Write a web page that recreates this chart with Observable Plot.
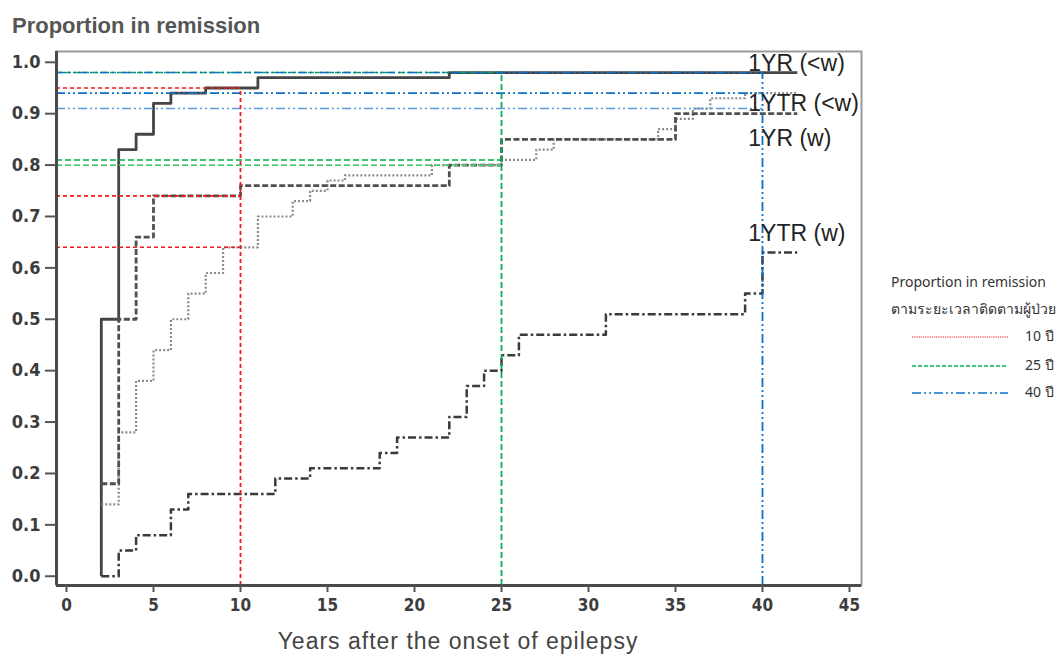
<!DOCTYPE html>
<html><head><meta charset="utf-8">
<script src="https://cdn.jsdelivr.net/npm/d3@7"></script>
<script src="https://cdn.jsdelivr.net/npm/@observablehq/plot@0.6"></script>
<style>
body{margin:0;background:#fff;}
#wrap{position:relative;width:1061px;height:660px;overflow:hidden;background:#fff;}
#wrap svg.plot{position:absolute;left:0;top:0;}
.title{position:absolute;left:12px;top:13px;font:bold 22px "Liberation Sans",Arial,sans-serif;color:#555;white-space:nowrap;}
.xlab{position:absolute;left:458px;top:628px;transform:translateX(-50%);font:23px "Liberation Sans",Arial,sans-serif;color:#444;white-space:nowrap;letter-spacing:1px;}
.lg{position:absolute;font:14px "Noto Sans","DejaVu Sans",sans-serif;color:#333;white-space:nowrap;line-height:1;}
</style></head><body>
<div id="wrap"></div>
<script>
// ---- data ----
const xTicks = [0,5,10,15,20,25,30,35,40,45];
const yTicks = [0,0.1,0.2,0.3,0.4,0.5,0.6,0.7,0.8,0.9,1.0];
const xDomain = [-0.575, 45.69];
const yDomain = [-0.018, 1.021];

const seriesNames = ["1YR (<w)", "1YTR (<w)", "1YR (w)", "1YTR (w)"];
const t1YRlw  = [2,2,3,4,5,6,8,11,22,42];
const s1YRlw  = [0,0.50,0.83,0.86,0.92,0.94,0.95,0.97,0.98,0.98];
const t1YTRlw = [2,3,4,5,6,7,8,9,11,13,14,15,16,21,25,27,28,34,35,36,37,39,42];
const s1YTRlw = [0.14,0.28,0.38,0.44,0.50,0.55,0.59,0.64,0.70,0.73,0.75,0.77,0.78,0.80,0.81,0.83,0.85,0.87,0.89,0.91,0.93,0.94,0.94];
const t1YRw   = [2,3,4,5,10,22,25,35,42];
const s1YRw   = [0.18,0.50,0.66,0.74,0.76,0.80,0.85,0.90,0.90];
const t1YTRw  = [2,3,4,6,7,12,14,18,19,22,23,24,25,26,31,39,40,42];
const s1YTRw  = [0,0.05,0.08,0.13,0.16,0.19,0.21,0.24,0.27,0.31,0.37,0.40,0.43,0.47,0.51,0.55,0.63,0.63];

const refYears  = [10, 25, 40];
const refLabels = ["10 ปี", "25 ปี", "40 ปี"];
const ref10 = [0.95, 0.74, 0.64];
const ref25 = [0.98, 0.81, 0.80];
const ref40 = [0.98, 0.94, 0.91];

// ---- styles ----
const curveStyle = {
  "1YR (<w)":  {stroke:"#454545", strokeWidth:2.8, dash:null},
  "1YTR (<w)": {stroke:"#8a8a8a", strokeWidth:2.2, dash:"2,2"},
  "1YR (w)":   {stroke:"#505050", strokeWidth:2.8, dash:"6,2.5"},
  "1YTR (w)":  {stroke:"#3a3a3a", strokeWidth:2.5, dash:"8,3,2.5,3"}
};
const labelDy = {"1YR (<w)":-9, "1YTR (<w)":10, "1YR (w)":25, "1YTR (w)":-19};
const refStyle = [
  {stroke:"#f51a1a", dash:"4,3", legendDash:"1.2,1"},
  {stroke:"#00b04c", dash:"6,3", legendDash:"4,2"},
  {stroke:"#0a70c8", dash:"9,3,2,3,2,3", legendDash:"9,3,2,3,2,3"}
];

// ---- build tables ----
const tables = [[t1YRlw,s1YRlw],[t1YTRlw,s1YTRlw],[t1YRw,s1YRw],[t1YTRw,s1YTRw]];
const curves = seriesNames.map((name,i)=>tables[i][0].map((t,j)=>({name, t, s: tables[i][1][j]})));
const ends = curves.map(c=>c[c.length-1]);
const refSets = [ref10, ref25, ref40];
const refH = refSets.flatMap((vals,i)=>vals.map((v,k)=>({i,k,year:refYears[i],v})));
const refV = refYears.map((year,i)=>({i,year,top:d3.max(refSets[i])}));
const tickFont = "'Liberation Sans Narrow','DejaVu Sans Condensed','Arial Narrow',sans-serif";

const marks = [
  Plot.frame({stroke:"#9a9a9a", strokeWidth:2}),
  ...curves.map(c=>{
    const st = curveStyle[c[0].name];
    return Plot.line(c,{x:"t",y:"s",curve:"step-after",stroke:st.stroke,strokeWidth:st.strokeWidth,strokeDasharray:st.dash,strokeLinecap:"butt"});
  }),
  ...refH.map(d=>Plot.ruleY([d],{y:"v",x1:xDomain[0],x2:"year",
    stroke: (d.i===2 && d.k===2) ? "#5a9ad8" : (d.i===1 && d.k===2 ? "#4ccb7c" : refStyle[d.i].stroke),
    strokeWidth:1.6,strokeDasharray:refStyle[d.i].dash})),
  ...refV.map(d=>Plot.ruleX([d],{x:"year",y1:yDomain[0],y2:"top",stroke:refStyle[d.i].stroke,strokeWidth:1.8,strokeDasharray:refStyle[d.i].dash})),
  Plot.ruleX([xDomain[0]],{stroke:"#4a4a4a",strokeWidth:3}),
  Plot.ruleY([yDomain[0]],{stroke:"#4a4a4a",strokeWidth:3}),
  Plot.axisY({ticks:yTicks,tickFormat:d3.format(".1f"),tickSize:11,tickPadding:5,stroke:"#555",strokeWidth:2,
    fill:"#3c3c3c",fontSize:18,fontWeight:"bold",fontFamily:tickFont,label:null}),
  Plot.axisX({ticks:xTicks,tickFormat:d=>String(d),tickSize:7,tickPadding:6,stroke:"#555",strokeWidth:2,
    fill:"#3c3c3c",fontSize:17,fontWeight:"bold",fontFamily:tickFont,label:null}),
  ...ends.map(e=>Plot.text([e],{x:"t",y:"s",text:"name",dx:-49,dy:labelDy[e.name],textAnchor:"start",lineAnchor:"middle",
    fill:"#222",fontSize:23,fontFamily:"'Liberation Sans',Arial,sans-serif"}))
];

const chart = Plot.plot({
  width:1061, height:660,
  marginLeft:56, marginRight:200, marginTop:51, marginBottom:75,
  x:{domain:xDomain},
  y:{domain:yDomain},
  style:{background:"transparent",overflow:"visible"},
  marks
});
chart.classList.add("plot");
const wrap = document.getElementById("wrap");
wrap.appendChild(chart);

const title = document.createElement("div");
title.className="title"; title.textContent="Proportion in remission";
wrap.appendChild(title);
const xlab = document.createElement("div");
xlab.className="xlab"; xlab.textContent="Years after the onset of epilepsy";
wrap.appendChild(xlab);

// legend
function lgText(txt,left,cy){
  const d=document.createElement("div"); d.className="lg"; d.textContent=txt;
  d.style.left=left+"px"; d.style.top=(cy-8)+"px"; wrap.appendChild(d); return d;
}
lgText("Proportion in remission",891,283);
lgText("ตามระยะเวลาติดตามผู้ป่วย",891,310);
const rowY=[337,366,393];
const ns="http://www.w3.org/2000/svg";
refLabels.forEach((lab,i)=>{
  const s=document.createElementNS(ns,"svg");
  s.setAttribute("width","100"); s.setAttribute("height","6");
  s.style.position="absolute"; s.style.left="910px"; s.style.top=(rowY[i]-3)+"px";
  const l=document.createElementNS(ns,"line");
  l.setAttribute("x1","2"); l.setAttribute("x2","98"); l.setAttribute("y1","3"); l.setAttribute("y2","3");
  l.setAttribute("stroke",refStyle[i].stroke); l.setAttribute("stroke-width", i===0?"1":"1.6");
  l.setAttribute("stroke-dasharray",refStyle[i].legendDash);
  s.appendChild(l); wrap.appendChild(s);
  lgText(lab,1025,rowY[i]);
});
</script>
</body></html>
